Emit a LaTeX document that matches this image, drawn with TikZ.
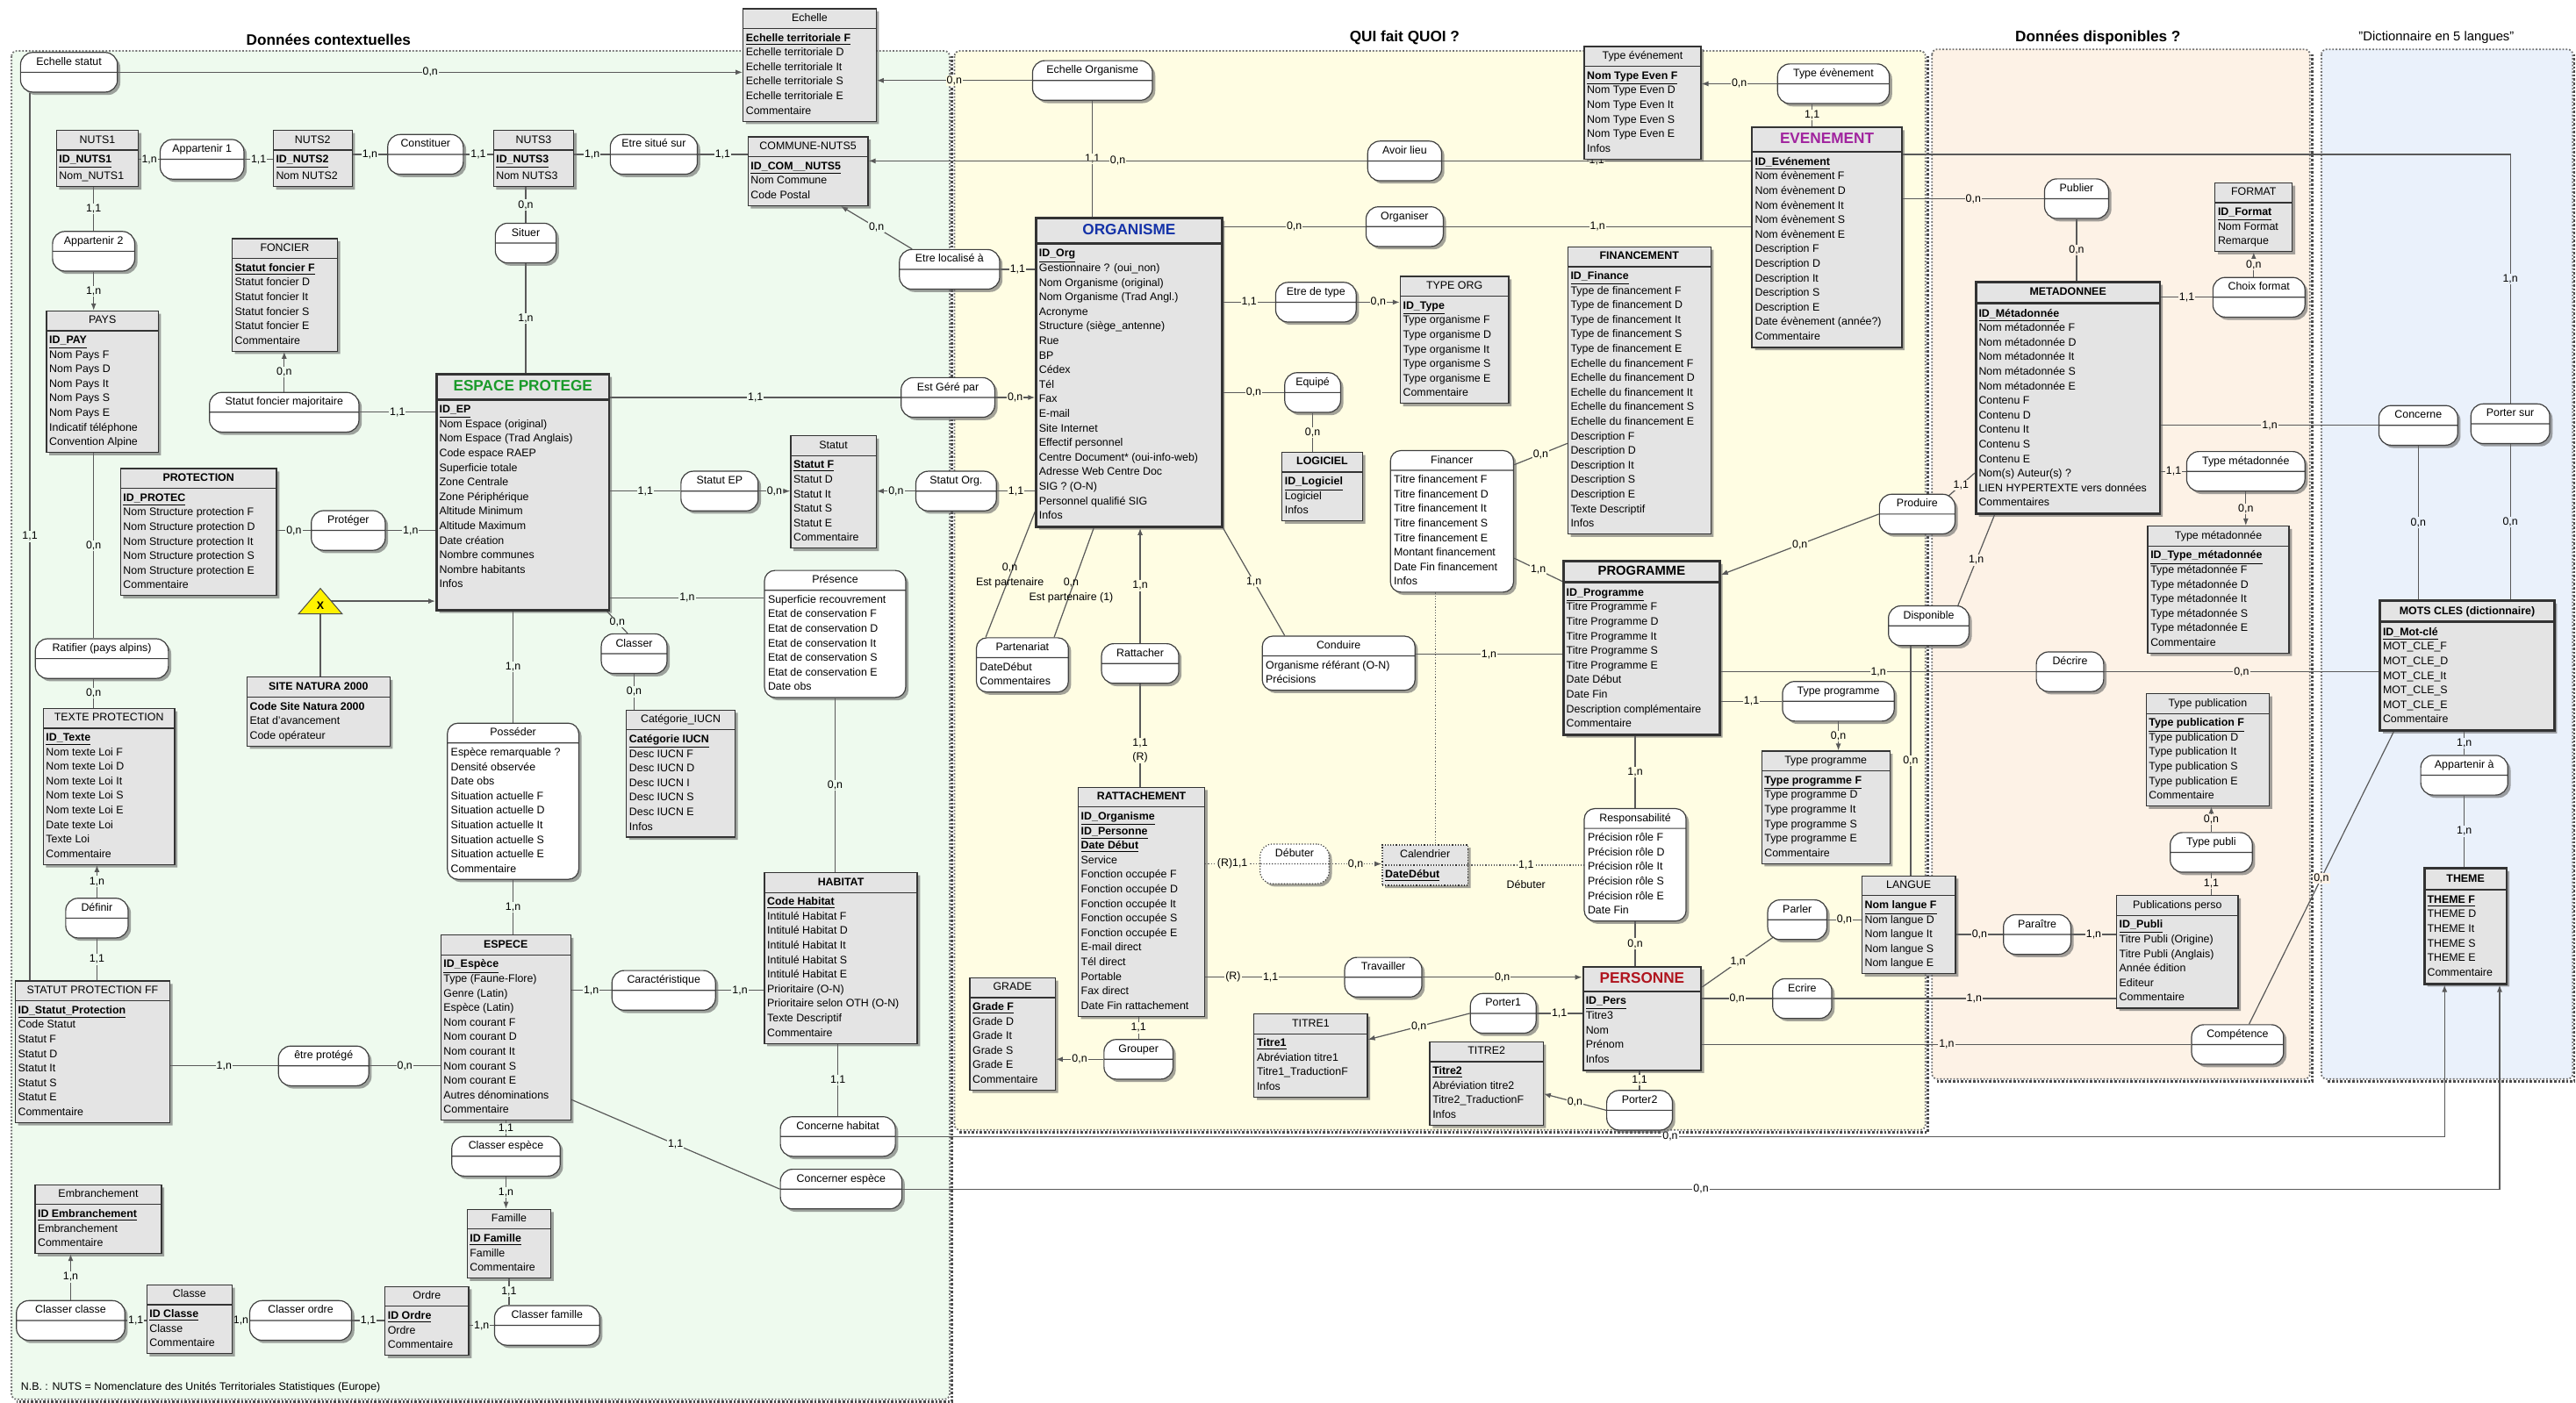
\documentclass[tikz,border=0pt]{standalone}
\usepackage{fontspec}
\setmainfont{Liberation Sans}
\usetikzlibrary{shapes.multipart,shadows,arrows.meta,calc}
\pgfdeclarelayer{background}
\pgfdeclarelayer{edges}
\pgfsetlayers{background,edges,main}

\definecolor{gbg}{HTML}{EEFAEE}
\definecolor{ybg}{HTML}{FFFDE3}
\definecolor{pbg}{HTML}{FDF2E6}
\definecolor{bbg}{HTML}{EAF1FB}
\definecolor{bdy}{HTML}{E4E4E4}
\definecolor{epgreen}{HTML}{1A9A2A}
\definecolor{orgblue}{HTML}{1432A8}
\definecolor{evtpurple}{HTML}{A0229E}
\definecolor{persred}{HTML}{B0141E}

\newcommand\efont{\fontsize{6.2}{8.3}\selectfont}
\def\ux{0.9359pt}
\newcommand\kk[1]{\underline{\textbf{#1}}}
\newcommand\bigt[2]{\rule[-3.1pt]{0pt}{10.7pt}\textcolor{#1}{\fontsize{8.6}{9}\selectfont\bfseries #2}}
\newcommand\medt[1]{\textbf{\fontsize{7.4}{8}\selectfont #1}}

\tikzset{
  boxshadow/.style={drop shadow={shadow xshift=1.6pt, shadow yshift=-1.6pt, fill=black!60, opacity=0.6}},
  ent/.style={rectangle split, rectangle split parts=2, rectangle split part align={center,left},
    fill=bdy, draw=black!80, line width=0.6pt, inner xsep=1.6pt,
    inner ysep=1.2pt, font=\efont, align=left, anchor=north west, boxshadow},
  keyent/.style={line width=1.4pt},
  mident/.style={line width=1pt},
  dotent/.style={densely dotted, line width=0.8pt},
  asso/.style={rectangle split, rectangle split parts=2, draw=black!75, line width=0.6pt,
    fill=white, rounded corners=7pt, inner xsep=2pt, inner ysep=1.2pt, font=\efont,
    align=center, anchor=center, boxshadow},
  assob/.style={asso, rounded corners=6pt, rectangle split part align={center,left},
    align=left, anchor=north west},
  link/.style={draw=black!65, line width=0.6pt},
  arr/.style={link, -{Latex[length=4pt,width=3pt]}},
  dotlink/.style={link, densely dotted},
  dotarr/.style={arr, densely dotted},
  card/.style={font=\efont, inner sep=0.5pt, fill=#1},
  card/.default=gbg,
  panel/.style={draw=black!55, densely dotted, line width=0.9pt, rounded corners=3pt},
  panelrim/.style={draw=black!70, densely dotted, line width=1.3pt},
  ptitle/.style={font=\fontsize{8.6}{10}\selectfont\bfseries},
}

% entity: [options]{name}{top-left}{width}{title}{attributes}
\newcommand\ent[6][]{\node[ent,#1,minimum width=#4*\ux] (#2) at (#3) {\strut #5\nodepart{two}\strut #6\strut};}
% association without attributes: [options]{name}{centre}{width}{label}
\newcommand\assoc[5][]{\node[asso,#1,minimum width=#4*\ux] (#2) at (#3) {\strut #5\nodepart{two}\strut};}
% association with attributes: [options]{name}{top-left}{width}{label}{attributes}
\newcommand\assocb[6][]{\node[assob,#1,minimum width=#4*\ux] (#2) at (#3) {\strut #5\nodepart{two}\strut #6\strut};}

\begin{document}
\begin{tikzpicture}[x=0.9359pt, y=-0.9359pt]
\path[use as bounding box] (0,0) rectangle (1568,854);

\begin{pgfonlayer}{background}
  \fill[white] (0,0) rectangle (1568,854);
  \draw[panel, fill=gbg] (7,31) rectangle (578,852);
  \draw[panel, fill=ybg] (581,31) rectangle (1172,688);
  \draw[panel, fill=pbg] (1176,30) rectangle (1406,657);
  \draw[panel, fill=bbg] (1413,30) rectangle (1566,657);
  % darker rims on the lower and right sides of the groups
  \draw[panelrim] (579.5,34) -- (579.5,853.5) -- (10,853.5);
  \draw[panelrim] (1173.5,34) -- (1173.5,689.5) -- (584,689.5);
  \draw[panelrim] (1407.5,33) -- (1407.5,658.5) -- (1179,658.5);
  \draw[panelrim] (1567,33) -- (1567,658.5) -- (1416,658.5);
\end{pgfonlayer}

% group titles
\node[ptitle] (ttlA) at (200,24) {Données contextuelles};
\node[ptitle] (ttlB) at (855,23) {QUI fait QUOI ?};
\node[ptitle] (ttlC) at (1277,23) {Données disponibles ?};
\node[font=\fontsize{7.4}{9}\selectfont] (ttlD) at (1483,23) {"Dictionnaire en 5 langues"};
\node[font=\efont, anchor=west] (nb) at (9,845) {N.B. : NUTS = Nomenclature des Unités Territoriales Statistiques (Europe)};

% ---------- contextual data ----------
\ent{echelle}{452,5}{81}{Echelle}{\kk{Echelle territoriale F}\\Echelle territoriale D\\Echelle territoriale It\\Echelle territoriale S\\Echelle territoriale E\\Commentaire}
\ent{nuts1}{34,79}{50}{NUTS1}{\kk{ID\_NUTS1}\\Nom\_NUTS1}
\ent{nuts2}{166,79}{48}{NUTS2}{\kk{ID\_NUTS2}\\Nom NUTS2}
\ent{nuts3}{300,79}{49}{NUTS3}{\kk{ID\_NUTS3}\\Nom NUTS3}
\ent{commune}{455,83}{73}{COMMUNE-NUTS5}{\kk{ID\_COM\_\_NUTS5}\\Nom Commune\\Code Postal}
\ent{pays}{28,189}{68}{PAYS}{\kk{ID\_PAY}\\Nom Pays F\\Nom Pays D\\Nom Pays It\\Nom Pays S\\Nom Pays E\\Indicatif téléphone\\Convention Alpine}
\ent{foncier}{141,145}{64}{FONCIER}{\kk{Statut foncier F}\\Statut foncier D\\Statut foncier It\\Statut foncier S\\Statut foncier E\\Commentaire}
\ent[keyent]{ep}{265,227}{105}{\bigt{epgreen}{ESPACE PROTEGE}}{\kk{ID\_EP}\\Nom Espace (original)\\Nom Espace (Trad Anglais)\\Code espace RAEP\\Superficie totale\\Zone Centrale\\Zone Périphérique\\Altitude Minimum\\Altitude Maximum\\Date création\\Nombre communes\\Nombre habitants\\Infos\\}
\ent{protection}{73,285}{95}{\textbf{PROTECTION}}{\kk{ID\_PROTEC}\\Nom Structure protection F\\Nom Structure protection D\\Nom Structure protection It\\Nom Structure protection S\\Nom Structure protection E\\Commentaire}
\ent{statut}{481,265}{52}{Statut}{\kk{Statut F}\\Statut D\\Statut It\\Statut S\\Statut E\\Commentaire}
\ent{natura}{150,412}{87}{\textbf{SITE NATURA 2000}}{\textbf{Code Site Natura 2000}\\Etat d'avancement\\Code opérateur}
\ent{texte}{26,431}{80}{TEXTE PROTECTION}{\kk{ID\_Texte}\\Nom texte Loi F\\Nom texte Loi D\\Nom texte Loi It\\Nom texte Loi S\\Nom texte Loi E\\Date texte Loi\\Texte Loi\\Commentaire}
\ent{iucn}{381,432}{66}{Catégorie\_IUCN}{\kk{Catégorie IUCN}\\Desc IUCN F\\Desc IUCN D\\Desc IUCN I\\Desc IUCN S\\Desc IUCN E\\Infos}
\ent{statpro}{9,597}{94}{STATUT PROTECTION FF}{\kk{ID\_Statut\_Protection}\\Code Statut\\Statut F\\Statut D\\Statut It\\Statut S\\Statut E\\Commentaire}
\ent{espece}{268,569}{79}{\textbf{ESPECE}}{\kk{ID\_Espèce}\\Type (Faune-Flore)\\Genre (Latin)\\Espèce (Latin)\\Nom courant F\\Nom courant D\\Nom courant It\\Nom courant S\\Nom courant E\\Autres dénominations\\Commentaire}
\ent{habitat}{465,531}{93}{\textbf{HABITAT}}{\kk{Code Habitat}\\Intitulé Habitat F\\Intitulé Habitat D\\Intitulé Habitat It\\Intitulé Habitat S\\Intitulé Habitat E\\Prioritaire (O-N)\\Prioritaire selon OTH (O-N)\\Texte Descriptif\\Commentaire}
\ent{famille}{284,736}{51}{Famille}{\kk{ID Famille}\\Famille\\Commentaire}
\ent{ordre}{234,783}{51}{Ordre}{\kk{ID Ordre}\\Ordre\\Commentaire}
\ent{classe}{89,782}{52}{Classe}{\kk{ID Classe}\\Classe\\Commentaire}
\ent{embr}{21,721}{77}{Embranchement}{\kk{ID Embranchement}\\Embranchement\\Commentaire}

\assoc{echstat}{42,44}{59}{Echelle statut}
\assoc{app1}{123,97}{51}{Appartenir 1}
\assoc{constituer}{259,94}{46}{Constituer}
\assoc{situesur}{398,94}{53}{Etre situé sur}
\assoc{app2}{57,153}{50}{Appartenir 2}
\assoc{situer}{320,148}{37}{Situer}
\assoc{sfm}{173,251}{91}{Statut foncier majoritaire}
\assoc{estgere}{577,242}{57}{Est Géré par}
\assoc{localise}{578,164}{61}{Etre localisé à}
\assoc{statutep}{438,299}{47}{Statut EP}
\assoc{statutorg}{582,299}{49}{Statut Org.}
\assoc{proteger}{212,323}{45}{Protéger}
\assoc{ratifier}{62,401}{81}{Ratifier (pays alpins)}
\assoc{classer}{386,398}{40}{Classer}
\assoc{definir}{59,559}{38}{Définir}
\assoc{protege}{197,649}{55}{être protégé}
\assoc{caract}{404,603}{63}{Caractéristique}
\assoc{classesp}{308,704}{66}{Classer espèce}
\assoc{classfam}{333,807}{64}{Classer famille}
\assoc{classord}{183,804}{62}{Classer ordre}
\assoc{classcl}{43,804}{66}{Classer classe}
\assoc{conchab}{510,692}{70}{Concerne habitat}
\assoc{concesp}{512,724}{74}{Concerner espèce}
\assocb{posseder}{272,440}{80}{Posséder}{Espèce remarquable ?\\Densité observée\\Date obs\\Situation actuelle F\\Situation actuelle D\\Situation actuelle It\\Situation actuelle S\\Situation actuelle E\\Commentaire}
\assocb{presence}{465,347}{86}{Présence}{Superficie recouvrement\\Etat de conservation F\\Etat de conservation D\\Etat de conservation It\\Etat de conservation S\\Etat de conservation E\\Date obs}

% exclusion marker between protected area and Natura 2000 site
\node[minimum width=26*\ux, minimum height=15*\ux, inner sep=0pt] (natx) at (195,366) {};
\filldraw[fill=yellow, draw=black!70, line width=0.5pt] (natx.south west) -- (natx.north) -- (natx.south east) -- cycle;
\node[font=\efont\bfseries, inner sep=0pt] (natxl) at ($(natx.center)+(0,2.5)$) {X};

% ---------- who does what ----------
\ent[keyent]{org}{630,132}{113}{\bigt{orgblue}{ORGANISME}}{\kk{ID\_Org}\\Gestionnaire ? (oui\_non)\\Nom Organisme (original)\\Nom Organisme (Trad Angl.)\\Acronyme\\Structure (siège\_antenne)\\Rue\\BP\\Cédex\\Tél\\Fax\\E-mail\\Site Internet\\Effectif personnel\\Centre Document* (oui-info-web)\\Adresse Web Centre Doc\\SIG ? (O-N)\\Personnel qualifié SIG\\Infos}
\ent{typeorg}{852,168}{66}{TYPE ORG}{\kk{ID\_Type}\\Type organisme F\\Type organisme D\\Type organisme It\\Type organisme S\\Type organisme E\\Commentaire}
\ent{logiciel}{780,275}{49}{\textbf{LOGICIEL}}{\kk{ID\_Logiciel}\\Logiciel\\Infos}
\ent{financement}{954,150}{87}{\textbf{FINANCEMENT}}{\kk{ID\_Finance}\\Type de financement F\\Type de financement D\\Type de financement It\\Type de financement S\\Type de financement E\\Echelle du financement F\\Echelle du financement D\\Echelle du financement It\\Echelle du financement S\\Echelle du financement E\\Description F\\Description D\\Description It\\Description S\\Description E\\Texte Descriptif\\Infos}
\ent{typeevt}{964,28}{71}{Type événement}{\kk{Nom Type Even F}\\Nom Type Even D\\Nom Type Even It\\Nom Type Even S\\Nom Type Even E\\Infos}
\ent[mident]{evt}{1066,77}{91}{\bigt{evtpurple}{EVENEMENT}}{\kk{ID\_Evénement}\\Nom évènement F\\Nom évènement D\\Nom évènement It\\Nom évènement S\\Nom évènement E\\Description F\\Description D\\Description It\\Description S\\Description E\\Date évènement (année?)\\Commentaire}
\ent[keyent]{prog}{951,341}{95}{\medt{PROGRAMME}}{\kk{ID\_Programme}\\Titre Programme F\\Titre Programme D\\Titre Programme It\\Titre Programme S\\Titre Programme E\\Date Début\\Date Fin\\Description complémentaire\\Commentaire}
\ent{typeprog}{1072,457}{78}{Type programme}{\kk{Type programme F}\\Type programme D\\Type programme It\\Type programme S\\Type programme E\\Commentaire}
\ent[dotent]{calendrier}{841,514}{52}{Calendrier}{\kk{DateDébut}}
\ent{ratt}{656,479}{77}{\textbf{RATTACHEMENT}}{\kk{ID\_Organisme}\\\kk{ID\_Personne}\\\kk{Date Début}\\Service\\Fonction occupée F\\Fonction occupée D\\Fonction occupée It\\Fonction occupée S\\Fonction occupée E\\E-mail direct\\Tél direct\\Portable\\Fax direct\\Date Fin rattachement}
\ent{grade}{590,595}{52}{GRADE}{\kk{Grade F}\\Grade D\\Grade It\\Grade S\\Grade E\\Commentaire}
\ent[mident]{personne}{963,588}{72}{\bigt{persred}{PERSONNE}}{\kk{ID\_Pers}\\Titre3\\Nom\\Prénom\\Infos}
\ent{titre1}{763,617}{69}{TITRE1}{\kk{Titre1}\\Abréviation titre1\\Titre1\_TraductionF\\Infos}
\ent{titre2}{870,634}{69}{TITRE2}{\kk{Titre2}\\Abréviation titre2\\Titre2\_TraductionF\\Infos}
\ent{langue}{1133,533}{57}{LANGUE}{\kk{Nom langue F}\\Nom langue D\\Nom langue It\\Nom langue S\\Nom langue E}

\assoc{echorg}{665,49}{73}{Echelle Organisme}
\assoc{avoirlieu}{855,98}{45}{Avoir lieu}
\assoc{organiser}{855,138}{47}{Organiser}
\assoc{etretype}{801,184}{49}{Etre de type}
\assoc{equipe}{799,239}{34}{Equipé}
\assoc{typeevp}{1116,51}{68}{Type évènement}
\assoc{typeprogp}{1119,427}{68}{Type programme}
\assoc{rattacher}{694,404}{47}{Rattacher}
\assoc{grouper}{693,645}{42}{Grouper}
\assoc{travailler}{842,595}{47}{Travailler}
\assoc{porter1}{915,617}{40}{Porter1}
\assoc{porter2}{998,676}{40}{Porter2}
\assoc{parler}{1094,560}{36}{Parler}
\assoc{ecrire}{1097,608}{36}{Ecrire}
\assoc[densely dotted]{debuter}{788,526}{42}{Débuter}
\assocb{financer}{846,274}{75}{Financer}{Titre financement F\\Titre financement D\\Titre financement It\\Titre financement S\\Titre financement E\\Montant financement\\Date Fin financement\\Infos}
\assocb{partenariat}{594,388}{56}{Partenariat}{DateDébut\\Commentaires}
\assocb{conduire}{768,387}{93}{Conduire}{Organisme référant (O-N)\\Précisions}
\assocb{responsab}{964,492}{62}{Responsabilité}{Précision rôle F\\Précision rôle D\\Précision rôle It\\Précision rôle S\\Précision rôle E\\Date Fin}

% ---------- available data ----------
\ent{format}{1348,111}{47}{FORMAT}{\kk{ID\_Format}\\Nom Format\\Remarque}
\ent[keyent]{meta}{1202,171}{112}{\textbf{METADONNEE}}{\kk{ID\_Métadonnée}\\Nom métadonnée F\\Nom métadonnée D\\Nom métadonnée It\\Nom métadonnée S\\Nom métadonnée E\\Contenu F\\Contenu D\\Contenu It\\Contenu S\\Contenu E\\Nom(s) Auteur(s) ?\\LIEN HYPERTEXTE vers données\\Commentaires}
\ent{typemeta}{1307,320}{86}{Type métadonnée}{\kk{ID\_Type\_métadonnée}\\Type métadonnée F\\Type métadonnée D\\Type métadonnée It\\Type métadonnée S\\Type métadonnée E\\Commentaire}
\ent{typepub}{1306,422}{75}{Type publication}{\kk{Type publication F}\\Type publication D\\Type publication It\\Type publication S\\Type publication E\\Commentaire}
\ent{publi}{1288,545}{74}{Publications perso}{\kk{ID\_Publi}\\Titre Publi (Origine)\\Titre Publi (Anglais)\\Année édition\\Editeur\\Commentaire}

\assoc{publier}{1264,121}{39}{Publier}
\assoc{choixf}{1375,181}{56}{Choix format}
\assoc{typemetap}{1367,287}{72}{Type métadonnée}
\assoc{decrire}{1260,409}{41}{Décrire}
\assoc{typepubp}{1346,519}{50}{Type publi}
\assoc{paraitre}{1240,569}{41}{Paraître}
\assoc{disponible}{1174,381}{49}{Disponible}
\assoc{produire}{1167,313}{46}{Produire}
\assoc{competence}{1362,636}{56}{Compétence}

% ---------- dictionary ----------
\ent[keyent]{motscles}{1448,365}{106}{\textbf{MOTS CLES (dictionnaire)}}{\kk{ID\_Mot-clé}\\MOT\_CLE\_F\\MOT\_CLE\_D\\MOT\_CLE\_It\\MOT\_CLE\_S\\MOT\_CLE\_E\\Commentaire}
\ent[keyent]{theme}{1475,528}{50}{\textbf{THEME}}{\kk{THEME F}\\THEME D\\THEME It\\THEME S\\THEME E\\Commentaire}
\assoc{concerne}{1472,259}{48}{Concerne}
\assoc{portersur}{1528,258}{48}{Porter sur}
\assoc{appartenira}{1500,472}{53}{Appartenir à}

% ---------- connectors ----------
\begin{pgfonlayer}{edges}
\coordinate (esl) at ($(echstat.south west)+(6,0)$);
\coordinate (presin) at ($(presence.north west)+(0,17)$);
\coordinate (thA) at ($(theme.south west)+(13,0)$);
\coordinate (thB) at ($(theme.south east)+(-5,0)$);
\coordinate (esp1) at ($(espece.south east)+(0,-13)$);
\coordinate (fds) at ($(financer.south)+(-10,0)$);
\coordinate (condr) at ($(conduire.north east)+(0,11.4)$);
\coordinate (tev) at ($(typeevp.south)+(-13,0)$);
\coordinate (evr1) at ($(evt.north east)+(0,17)$);
\coordinate (dsp) at ($(disponible.south)+(-11,0)$);

% contextual data
\draw[arr] (echstat.east) -- node[card]{0,n} (echelle.west |- echstat.east);
\draw[link] (esl) -- node[card]{1,1} (esl |- statpro.north);
\draw[link] (nuts1.east |- app1) -- node[card]{1,n} (app1.west);
\draw[link] (app1.east) -- node[card]{1,1} (nuts2.west |- app1);
\draw[link] (nuts2.east |- constituer) -- node[card]{1,n} (constituer.west);
\draw[link] (constituer.east) -- node[card]{1,1} (nuts3.west |- constituer);
\draw[link] (nuts3.east |- situesur) -- node[card]{1,n} (situesur.west);
\draw[link] (situesur.east) -- node[card]{1,1} (commune.west |- situesur);
\draw[link] (app2 |- nuts1.south) -- node[card]{1,1} (app2.north);
\draw[arr] (app2.south) -- node[card]{1,n} (app2 |- pays.north);
\draw[link] (app2 |- pays.south) -- node[card]{0,n} (app2 |- ratifier.north);
\draw[link] (app2 |- ratifier.south) -- node[card]{0,n} (app2 |- texte.north);
\draw[arr] (definir.north) -- node[card]{1,n} (definir |- texte.south);
\draw[link] (definir.south) -- node[card]{1,1} (definir |- statpro.north);
\draw[arr] (sfm.north) -- node[card]{0,n} (sfm |- foncier.south);
\draw[link] (sfm.east) -- node[card]{1,1} (ep.west |- sfm);
\draw[link] (situer |- nuts3.south) -- node[card]{0,n} (situer.north);
\draw[link] (situer.south) -- node[card]{1,n} (situer |- ep.north);
\draw[link] (ep.east |- estgere) -- node[card]{1,1} (estgere.west);
\draw[arr] (estgere.east) -- node[card=ybg]{0,n} (org.west |- estgere);
\draw[arr] ($(localise.north west)+(8,0)$) -- node[card]{0,n} ($(commune.south)+(20,0)$);
\draw[link] (localise.east) -- node[card=ybg]{1,1} (org.west |- localise);
\draw[link] (ep.east |- statutep) -- node[card]{1,1} (statutep.west);
\draw[arr] (statutep.east) -- node[card]{0,n} (statut.west |- statutep);
\draw[arr] (statutorg.west) -- node[card]{0,n} (statut.east |- statutorg);
\draw[link] (statutorg.east) -- node[card=ybg]{1,1} (org.west |- statutorg);
\draw[link] (protection.east |- proteger) -- node[card]{0,n} (proteger.west);
\draw[link] (proteger.east) -- node[card]{1,n} (ep.west |- proteger);
\draw[arr] (natx.center) -- (ep.west |- natx.center);
\draw[link] (natx.center) -- (natx.center |- natura.north);
\draw[link] (posseder |- ep.south) -- node[card]{1,n} (posseder.north);
\draw[link] (posseder.south) -- node[card]{1,n} (posseder |- espece.north);
\draw[link] ($(ep.south east)+(-2,0)$) -- node[card]{0,n} ($(classer.north)+(-4,0)$);
\draw[link] (classer.south) -- node[card]{0,n} (classer |- iucn.north);
\draw[link] (ep.east |- presin) -- node[card]{1,n} (presin);
\draw[link] (presence.south) -- node[card]{0,n} (presence.south |- habitat.north);
\draw[link] (statpro.east |- protege) -- node[card]{1,n} (protege.west);
\draw[link] (protege.east) -- node[card]{0,n} (espece.west |- protege);
\draw[link] (espece.east |- caract) -- node[card]{1,n} (caract.west);
\draw[link] (caract.east) -- node[card]{1,n} (habitat.west |- caract);
\draw[link] (classesp |- espece.south) -- node[card]{1,1} (classesp.north);
\draw[arr] (classesp.south) -- node[card]{1,n} (classesp |- famille.north);
\draw[link] (famille.south) -- node[card]{1,1} (famille.south |- classfam.north);
\draw[link] (ordre.east |- classfam) -- node[card]{1,n} (classfam.west);
\draw[link] (classord.east) -- node[card]{1,1} (ordre.west |- classord);
\draw[link] (classe.east |- classord) -- node[card]{1,n} (classord.west);
\draw[link] (classcl.east) -- node[card]{1,1} (classe.west |- classcl);
\draw[arr] (classcl.north) -- node[card]{1,n} (classcl |- embr.south);
\draw[link] (conchab |- habitat.south) -- node[card]{1,1} (conchab.north);
\draw[arr] (conchab.east) -| node[card=white, pos=0.25]{0,n} (thA);
\draw[arr] (concesp.east) -| node[card=white, pos=0.25]{0,n} (thB);
\draw[link] (esp1) -- node[card]{1,1} (concesp.west);

% who does what
\draw[arr] (echorg.west) -- node[card=ybg]{0,n} (echelle.east |- echorg);
\draw[link] (echorg.south) -- node[card=ybg]{1,1} (echorg |- org.north);
\draw[arr] (avoirlieu.west) -- node[card=ybg]{0,n} (commune.east |- avoirlieu);
\draw[link] (avoirlieu.east) -- node[card=ybg]{1,1} (evt.west |- avoirlieu);
\draw[link] (org.east |- organiser) -- node[card=ybg]{0,n} (organiser.west);
\draw[link] (organiser.east) -- node[card=ybg]{1,n} (evt.west |- organiser);
\draw[link] (org.east |- etretype) -- node[card=ybg]{1,1} (etretype.west);
\draw[arr] (etretype.east) -- node[card=ybg]{0,n} (typeorg.west |- etretype);
\draw[link] (org.east |- equipe) -- node[card=ybg]{0,n} (equipe.west);
\draw[link] (equipe.south) -- node[card=ybg]{0,n} (equipe |- logiciel.north);
\draw[link] ($(financer.north east)+(0,9)$) -- node[card=ybg]{0,n} ($(financement.north west)+(0,120)$);
\draw[link] ($(financer.south east)+(0,-21)$) -- node[card=ybg]{1,n} ($(prog.north west)+(0,13)$);
\draw[dotlink] (fds) -- (fds |- calendrier.north);
\draw[link] (org.south east) -- node[card=ybg]{1,n} ($(conduire.north west)+(14,0)$);
\draw[link] (condr) -- node[card=ybg]{1,n} (prog.west |- condr);
\draw[link] ($(org.south west)+(0,-10)$) -- node[font=\efont, align=center, pos=0.51]{0,n\\Est partenaire} ($(partenariat.north west)+(6,0)$);
\draw[link] ($(org.south)+(-21.5,0)$) -- node[font=\efont, align=center, pos=0.57]{0,n\\Est partenaire (1)} ($(partenariat.north east)+(-9,0)$);
\draw[arr] (rattacher.north) -- node[card=ybg]{1,n} (rattacher |- org.south);
\draw[link] (rattacher.south) -- node[card=ybg, align=center, pos=0.65]{1,1\\(R)} (rattacher |- ratt.north);
\draw[dotlink] (ratt.east |- debuter) -- node[card=ybg]{(R)1,1} (debuter.west);
\draw[dotarr] (debuter.east) -- node[card=ybg]{0,n} (calendrier.west |- debuter);
\draw[dotlink] (calendrier.east) -- node[card=ybg]{1,1} node[font=\efont, below=5pt]{Débuter} (responsab.west |- calendrier.east);
\draw[link] (responsab |- prog.south) -- node[card=ybg]{1,n} (responsab.north);
\draw[link] (responsab.south) -- node[card=ybg]{0,n} (responsab |- personne.north);
\draw[link] (ratt.east |- travailler) -- node[card=ybg, pos=0.2]{(R)} node[card=ybg, pos=0.47]{1,1} (travailler.west);
\draw[arr] (travailler.east) -- node[card=ybg]{0,n} (personne.west |- travailler);
\draw[link] (grouper |- ratt.south) -- node[card=ybg]{1,1} (grouper.north);
\draw[arr] (grouper.west) -- node[card=ybg]{0,n} (grade.east |- grouper);
\draw[link] (personne.west |- porter1) -- node[card=ybg]{1,1} (porter1.east);
\draw[arr] (porter1.west) -- node[card=ybg]{0,n} ($(titre1.north east)+(0,16)$);
\draw[link] (porter2 |- personne.south) -- node[card=ybg]{1,1} (porter2.north);
\draw[arr] (porter2.west) -- node[card=ybg]{0,n} ($(titre2.north east)+(0,32)$);
\draw[link] ($(personne.north east)+(0,13)$) -- node[card=ybg]{1,n} ($(parler.south west)+(4,-2)$);
\draw[link] (parler.east) -- node[card=ybg]{0,n} (langue.west |- parler);
\draw[link] (personne.east |- ecrire) -- node[card=ybg]{0,n} (ecrire.west);
\draw[link] (ecrire.east) -- node[card=pbg]{1,n} (publi.west |- ecrire);
\draw[link] (personne.east |- competence) -- node[card=pbg]{1,n} (competence.west);
\draw[link] ($(competence.north)+(7,0)$) -- node[card=pbg]{0,n} ($(motscles.south west)+(9,0)$);
\draw[arr] (typeevp.west) -- node[card=ybg]{0,n} (typeevt.east |- typeevp);
\draw[link] (tev) -- node[card=ybg]{1,1} (tev |- evt.north);
\draw[link] (evr1) -| node[card=bbg, pos=0.75]{1,n} (portersur.north);
\draw[link] (prog.east |- typeprogp) -- node[card=ybg]{1,1} (typeprogp.west);
\draw[arr] (typeprogp.south) -- node[card=ybg]{0,n} (typeprogp |- typeprog.north);
\draw[link] (prog.east |- decrire) -- node[card=ybg]{1,n} (decrire.west);

% available data and dictionary
\draw[link] (evt.east |- publier) -- node[card=pbg]{0,n} (publier.west);
\draw[link] (publier.south) -- node[card=pbg]{0,n} (publier |- meta.north);
\draw[arr] (format.south |- choixf.north) -- node[card=pbg]{0,n} (format.south);
\draw[link] (meta.east |- choixf) -- node[card=pbg]{1,1} (choixf.west);
\draw[link] (meta.east |- concerne) -- node[card=pbg]{1,n} (concerne.west);
\draw[link] (concerne.south) -- node[card=bbg]{0,n} (concerne |- motscles.north);
\draw[link] (portersur.south) -- node[card=bbg]{0,n} (portersur |- motscles.north);
\draw[link] (meta.east |- typemetap) -- node[card=pbg]{1,1} (typemetap.west);
\draw[arr] (typemetap.south) -- node[card=pbg]{0,n} (typemetap |- typemeta.north);
\draw[link] (decrire.east) -- node[card=pbg]{0,n} (motscles.west |- decrire);
\draw[arr] (typepubp.north) -- node[card=pbg]{0,n} (typepubp |- typepub.south);
\draw[link] (typepubp.south) -- node[card=pbg]{1,1} (typepubp |- publi.north);
\draw[link] (paraitre.west) -- node[card=pbg]{0,n} (langue.east |- paraitre);
\draw[link] (paraitre.east) -- node[card=pbg]{1,n} (publi.west |- paraitre);
\draw[link] ($(disponible.north east)+(-7,0)$) -- node[card=pbg]{1,n} ($(meta.south west)+(12,0)$);
\draw[link] ($(produire.north east)+(-5,2)$) -- node[card=pbg]{1,1} ($(meta.north west)+(0,117)$);
\draw[arr] (produire.west) -- node[card=ybg]{0,n} ($(prog.north east)+(0,9)$);
\draw[link] (dsp) -- node[card=ybg]{0,n} (dsp |- langue.north);
\draw[link] (appartenira.north) -- node[card=bbg]{1,n} (appartenira |- motscles.south);
\draw[link] (appartenira.south) -- node[card=bbg]{1,n} (appartenira |- theme.north);
\end{pgfonlayer}
\end{tikzpicture}
\end{document}
